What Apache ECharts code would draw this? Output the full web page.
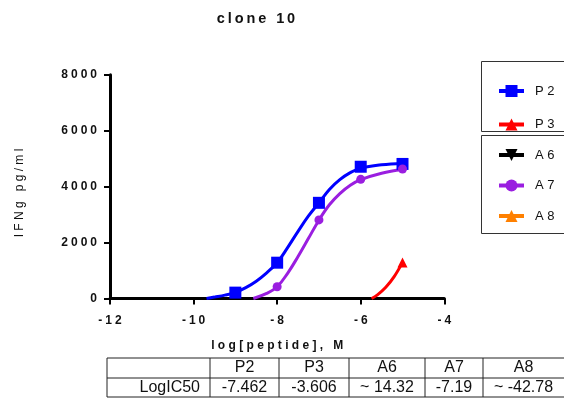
<!DOCTYPE html>
<html>
<head>
<meta charset="utf-8">
<script src="https://cdn.jsdelivr.net/npm/echarts@6/dist/echarts.min.js"></script>
<style>
  html, body { margin: 0; padding: 0; background: #fff; }
  #chart { width: 564px; height: 398px; }
</style>
</head>
<body>
<div id="chart"></div>
<script>
// Measured responses (log molar peptide vs IFNg pg/ml)
const p2Dose = [-9, -8, -7, -6, -5];
const p2Ifng = [210, 1280, 3420, 4710, 4810];
const a7Dose = [-8, -7, -6, -5];
const a7Ifng = [420, 2810, 4260, 4630];
const p3Dose = [-5];
const p3Ifng = [1290];

// Fitted dose-response curves, sampled along the x axis
const p2FitDose = [-9.69, -9.5, -9.25, -9, -8.75, -8.5, -8.25, -8, -7.75, -7.5, -7.25, -7, -6.75, -6.5, -6.25, -6, -5.5, -5];
const p2FitIfng = [0, 50, 120, 220, 390, 620, 920, 1280, 1820, 2400, 2950, 3420, 3900, 4250, 4500, 4660, 4780, 4830];
const a7FitDose = [-8.57, -8.25, -8, -7.75, -7.5, -7.25, -7, -6.75, -6.5, -6.25, -6, -5.5, -5];
const a7FitIfng = [0, 180, 420, 900, 1500, 2150, 2800, 3350, 3750, 4050, 4250, 4480, 4610];
const p3FitDose = [-5.74, -5.6, -5.4, -5.2, -5];
const p3FitIfng = [0, 130, 400, 780, 1290];

// Axis ticks
const xTicks = [-12, -10, -8, -6, -4];
const yTicks = [0, 2000, 4000, 6000, 8000];

// Summary table
const tableHeads = ['P2', 'P3', 'A6', 'A7', 'A8'];
const tableRowLabel = 'LogIC50';
const logIC50 = ['-7.462', '-3.606', '~ 14.32', '-7.19', '~ -42.78'];

const FONT = 'Arial, "Liberation Sans", sans-serif';
const spaced = (s, sep) => Array.from(String(s)).join(sep === undefined ? ' ' : sep);
const pairs = (xs, ys) => xs.map((x, i) => [x, ys[i]]);

const colors = { P2: '#0000ff', P3: '#ff0000', A6: '#000000', A7: '#9a1ee0', A8: '#ff8000' };

const chart = echarts.init(document.getElementById('chart'), null, { renderer: 'canvas' });

function fitSeries(name, xs, ys, symbol, symbolSize) {
  return {
    name, type: 'line', data: pairs(xs, ys), smooth: 0.4,
    symbol, symbolSize, showSymbol: false,
    lineStyle: { color: colors[name], width: 3 },
    itemStyle: { color: colors[name] },
    z: 3, silent: true
  };
}
function pointSeries(name, xs, ys, symbol, symbolSize) {
  return {
    name, type: 'scatter', data: pairs(xs, ys),
    symbol, symbolSize, itemStyle: { color: colors[name], opacity: 1 },
    z: 4, silent: true
  };
}

// Table geometry
const colX = [107, 210, 279, 349, 425, 483, 564];
const rowY = [358, 378, 397];
const tableFont = '16px ' + FONT;
const tableEls = [];
rowY.forEach(y => tableEls.push({ type: 'line', shape: { x1: colX[0], y1: y, x2: 564, y2: y }, style: { stroke: '#222', lineWidth: 1 } }));
colX.slice(0, 6).forEach(x => tableEls.push({ type: 'line', shape: { x1: x, y1: rowY[0], x2: x, y2: rowY[2] }, style: { stroke: '#222', lineWidth: 1 } }));
tableHeads.forEach((h, i) => {
  const cx = (colX[i + 1] + colX[i + 2]) / 2;
  tableEls.push({ type: 'text', x: cx, y: 368, style: { text: h, font: tableFont, fill: '#111', textAlign: 'center', textVerticalAlign: 'middle' } });
  tableEls.push({ type: 'text', x: cx, y: 388, style: { text: logIC50[i], font: tableFont, fill: '#111', textAlign: 'center', textVerticalAlign: 'middle' } });
});
tableEls.push({ type: 'text', x: 200, y: 388, style: { text: tableRowLabel, font: tableFont, fill: '#111', textAlign: 'right', textVerticalAlign: 'middle' } });

// Legend frames
const frames = [
  { type: 'rect', shape: { x: 481.5, y: 61.5, width: 100, height: 70 }, style: { fill: 'none', stroke: '#333', lineWidth: 1 } },
  { type: 'rect', shape: { x: 481.5, y: 135.5, width: 100, height: 98 }, style: { fill: 'none', stroke: '#333', lineWidth: 1 } }
];

// Y axis title, rotated
const yTitle = {
  type: 'text', x: 20, y: 193, rotation: Math.PI / 2,
  style: { text: spaced('IFNg pg/ml'), font: '12px ' + FONT, fill: '#111', textAlign: 'center', textVerticalAlign: 'middle' }
};

const legendText = { fontFamily: FONT, fontSize: 13, color: '#111', padding: [0, 0, 0, 6] };
const legendCommon = {
  orient: 'vertical', left: 497, padding: 0, itemWidth: 25, itemHeight: 15, selectedMode: false,
  formatter: n => spaced(n), textStyle: legendText,
  lineStyle: { width: 4 }
};

const tickSep = '\u2005';

chart.setOption({
  animation: false,
  backgroundColor: '#fff',
  title: {
    text: spaced('clone 10', '\u2009'),
    left: 256, top: 11.5, padding: 0, textAlign: 'center',
    textStyle: { fontFamily: FONT, fontSize: 14.5, fontWeight: 'bold', color: '#111' }
  },
  grid: { left: 110, right: 119.7, top: 74.7, bottom: 99.5, containLabel: false },
  legend: [
    Object.assign({ data: ['P2', 'P3'], top: 84.5, itemGap: 20.5 }, legendCommon),
    Object.assign({ data: ['A6', 'A7', 'A8'], top: 148.5, itemGap: 17.5 }, legendCommon)
  ],
  xAxis: {
    type: 'value', min: xTicks[0], max: xTicks[xTicks.length - 1], interval: 2,
    name: spaced('log[peptide], M'), nameLocation: 'middle', nameGap: 41,
    nameTextStyle: { fontFamily: FONT, fontSize: 12, fontWeight: 'bold', color: '#111' },
    axisLine: { onZero: false, lineStyle: { color: '#000', width: 3 } },
    axisTick: { show: true, length: 6, lineStyle: { color: '#000', width: 2 } },
    axisLabel: { margin: 16, fontFamily: FONT, fontSize: 12, fontWeight: 'bold', color: '#111', formatter: v => spaced(v, tickSep) },
    splitLine: { show: false }
  },
  yAxis: {
    type: 'value', min: yTicks[0], max: yTicks[yTicks.length - 1], interval: 2000,
    axisLine: { show: true, onZero: false, lineStyle: { color: '#000', width: 3 } },
    axisTick: { show: true, length: 6, lineStyle: { color: '#000', width: 2 } },
    axisLabel: { margin: 13, fontFamily: FONT, fontSize: 12, fontWeight: 'bold', color: '#111', formatter: v => spaced(v, tickSep) },
    splitLine: { show: false }
  },
  series: [
    fitSeries('P2', p2FitDose, p2FitIfng, 'rect', 12),
    fitSeries('P3', p3FitDose, p3FitIfng, 'triangle', 12),
    { name: 'A6', type: 'line', data: [], symbol: 'path://M0,0L10,0L5,10Z', symbolSize: 12,
      lineStyle: { color: colors.A6, width: 3 }, itemStyle: { color: colors.A6 } },
    fitSeries('A7', a7FitDose, a7FitIfng, 'circle', 11),
    { name: 'A8', type: 'line', data: [], symbol: 'triangle', symbolSize: 12,
      lineStyle: { color: colors.A8, width: 3 }, itemStyle: { color: colors.A8 } },
    pointSeries('P2', p2Dose, p2Ifng, 'rect', 12),
    pointSeries('A7', a7Dose, a7Ifng, 'circle', 9),
    pointSeries('P3', p3Dose, p3Ifng, 'triangle', 10)
  ],
  graphic: { elements: frames.concat([yTitle], tableEls) }
});
</script>
</body>
</html>
